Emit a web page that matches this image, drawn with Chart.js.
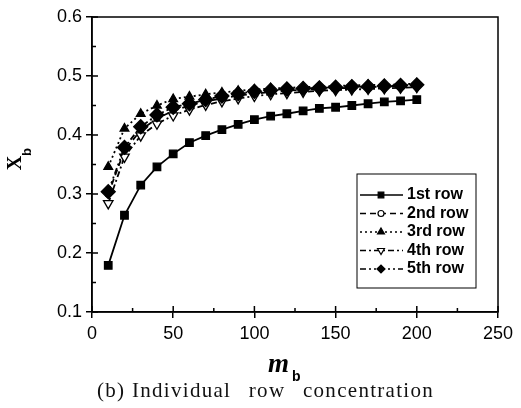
<!DOCTYPE html>
<html lang="en">
    <head>
        <title>Individual row concentration</title>
        <style>
            body { margin: 0; background: #fff; }
            #wrap { position: relative; width: 521px; height: 408px; }
            #caption {
                position: absolute; left: 97px; top: 378px;
                font-family: "Liberation Serif", "DejaVu Serif", serif;
                font-size: 21px; letter-spacing: 1.3px; white-space: nowrap; color: #111;
            }
            #caption span { word-spacing: 11px; }
        </style>
    </head>
    <body>
        <div id="wrap">
            <canvas id="chart" width="521" height="408"></canvas>
            <div id="caption">(b) <span>Individual row concentration</span></div>
        </div>

        <script src="https://cdn.jsdelivr.net/npm/chart.js"></script>
        <script>

            // m_b values (x)
            var mb = [10, 20, 30, 40, 50, 60, 70, 80, 90, 100, 110, 120, 130, 140, 150, 160, 170, 180, 190, 200]

            var row1 = [0.179, 0.264, 0.315, 0.346, 0.368, 0.387, 0.399, 0.409, 0.418, 0.426, 0.432, 0.436, 0.441, 0.445, 0.447, 0.450, 0.453, 0.456, 0.458, 0.460]
            var row2 = [0.300, 0.374, 0.408, 0.428, 0.441, 0.450, 0.457, 0.462, 0.467, 0.470, 0.473, 0.475, 0.477, 0.478, 0.479, 0.480, 0.481, 0.482, 0.483, 0.484]
            var row3 = [0.346, 0.411, 0.436, 0.450, 0.461, 0.465, 0.469, 0.472, 0.475, 0.477, 0.479, 0.480, 0.481, 0.482, 0.483, 0.484, 0.485, 0.485, 0.486, 0.487]
            var row4 = [0.284, 0.363, 0.399, 0.419, 0.433, 0.443, 0.451, 0.457, 0.462, 0.466, 0.469, 0.471, 0.473, 0.475, 0.476, 0.477, 0.478, 0.479, 0.480, 0.481]
            var row5 = [0.304, 0.379, 0.414, 0.434, 0.447, 0.453, 0.460, 0.466, 0.470, 0.474, 0.476, 0.478, 0.479, 0.480, 0.481, 0.482, 0.482, 0.483, 0.484, 0.485]

            var seriesNames = ["1st row", "2nd row", "3rd row", "4th row", "5th row"]

            var xTicks = [0, 50, 100, 150, 200, 250]
            var yTicks = [0.1, 0.2, 0.3, 0.4, 0.5, 0.6]


            function pts(ys){
                var out = []
                for(var i = 0; i < mb.length; i++){
                    out.push({x: mb[i], y: ys[i]})
                }
                return out
            }

            var datasets = [
                {label: seriesNames[0], data: pts(row1), borderDash: [], pointStyle: 'rect', pointRadius: 5.3, backgroundColor: '#000', order: 1},
                {label: seriesNames[1], data: pts(row2), borderDash: [6, 4], pointStyle: 'circle', pointRadius: 3, backgroundColor: '#fff', order: 5},
                {label: seriesNames[2], data: pts(row3), borderDash: [2, 3], pointStyle: 'triangle', pointRadius: 5, backgroundColor: '#000', order: 4},
                {label: seriesNames[3], data: pts(row4), borderDash: [6, 3, 2, 3], pointStyle: 'triangle', pointRotation: 180, pointRadius: 5.5, backgroundColor: '#fff', order: 3},
                {label: seriesNames[4], data: pts(row5), borderDash: [6, 3, 2, 3, 2, 3], pointStyle: 'rectRot', pointRadius: 7, backgroundColor: '#000', order: 2}
            ]
            datasets.forEach(function(d){
                d.borderColor = '#000'
                d.borderWidth = 1.8
                d.pointBorderColor = '#000'
                d.pointBackgroundColor = d.backgroundColor
                d.pointBorderWidth = 1.3
                d.fill = false
                d.tension = 0
            })


            // frame, inward ticks, minor ticks, axis titles, legend box
            var extras = {
                id: 'extras',
                afterDraw: function(chart){
                    var ctx = chart.ctx
                    var a = chart.chartArea
                    var xs = chart.scales.x
                    var ys = chart.scales.y
                    ctx.save()
                    ctx.strokeStyle = '#000'
                    ctx.lineWidth = 1.5
                    ctx.strokeRect(a.left, a.top, a.right - a.left, a.bottom - a.top)

                    ctx.beginPath()
                    for(var v = 0; v <= 250; v += 25){
                        var px = xs.getPixelForValue(v)
                        var len = (v % 50 == 0) ? 6 : 4
                        ctx.moveTo(px, a.bottom)
                        ctx.lineTo(px, a.bottom - len)
                    }
                    for(var k = 2; k <= 12; k++){
                        var val = k * 0.05
                        var py = ys.getPixelForValue(val)
                        var l2 = (k % 2 == 0) ? 6 : 4
                        ctx.moveTo(a.left, py)
                        ctx.lineTo(a.left + l2, py)
                    }
                    ctx.stroke()

                    // x title: m_b
                    ctx.fillStyle = '#000'
                    ctx.textBaseline = 'alphabetic'
                    ctx.textAlign = 'left'
                    ctx.font = 'italic bold 27px "Liberation Serif"'
                    ctx.fillText('m', 268, 372)
                    ctx.font = 'bold 14px "Liberation Sans"'
                    ctx.fillText('b', 292, 381)

                    // y title: X_b
                    ctx.save()
                    ctx.translate(16, 163)
                    ctx.rotate(-Math.PI / 2)
                    ctx.textAlign = 'center'
                    ctx.textBaseline = 'middle'
                    ctx.font = 'bold 20px "Liberation Serif"'
                    ctx.fillText('X', 0, 0)
                    ctx.font = 'bold 13px "Liberation Sans"'
                    ctx.fillText('b', 11, 11)
                    ctx.restore()

                    // legend
                    var bx = 357, by = 174, bw = 119, bh = 114
                    ctx.fillStyle = '#fff'
                    ctx.fillRect(bx, by, bw, bh)
                    ctx.lineWidth = 1
                    ctx.strokeRect(bx, by, bw, bh)
                    ctx.font = 'bold 16px "Liberation Sans"'
                    ctx.textAlign = 'left'
                    ctx.textBaseline = 'middle'
                    for(var i = 0; i < chart.data.datasets.length; i++){
                        var d = chart.data.datasets[i]
                        var yy = by + 21 + i * 18.5
                        ctx.strokeStyle = '#000'
                        ctx.lineWidth = 1.5
                        ctx.setLineDash(d.borderDash)
                        ctx.beginPath()
                        ctx.moveTo(bx + 3, yy)
                        ctx.lineTo(bx + 46, yy)
                        ctx.stroke()
                        ctx.setLineDash([])
                        ctx.fillStyle = d.backgroundColor
                        ctx.lineWidth = 1.2
                        Chart.helpers.drawPoint(ctx, {
                            pointStyle: d.pointStyle,
                            rotation: d.pointRotation || 0,
                            radius: Math.min(d.pointRadius, 4),
                            borderWidth: 1.2
                        }, bx + 24, yy)
                        ctx.fillStyle = '#000'
                        ctx.fillText(d.label, bx + 50, yy)
                    }
                    ctx.restore()
                }
            }


            new Chart(document.getElementById("chart"), {
                type: 'line',
                data: {datasets: datasets},
                plugins: [extras],
                options: {
                    responsive: false,
                    animation: false,
                    layout: {padding: {left: 0, right: 23, top: 17, bottom: 0}},
                    plugins: {
                        legend: {display: false},
                        tooltip: {enabled: false}
                    },
                    scales: {
                        x: {
                            type: 'linear',
                            min: 0,
                            max: 250,
                            afterBuildTicks: function(s){ s.ticks = xTicks.map(function(v){ return {value: v} }) },
                            afterFit: function(s){ s.height = 96 },
                            grid: {drawOnChartArea: false, drawTicks: true, tickLength: 6, color: '#000', lineWidth: 1.5},
                            border: {display: true, color: '#000', width: 1.5},
                            ticks: {color: '#000', padding: 5, font: {family: 'Liberation Sans', size: 18}}
                        },
                        y: {
                            type: 'linear',
                            min: 0.1,
                            max: 0.6,
                            afterBuildTicks: function(s){ s.ticks = yTicks.map(function(v){ return {value: v} }) },
                            afterFit: function(s){ s.width = 92 },
                            grid: {drawOnChartArea: false, drawTicks: true, tickLength: 6, color: '#000', lineWidth: 1.5},
                            border: {display: true, color: '#000', width: 1.5},
                            ticks: {
                                color: '#000', padding: 4, font: {family: 'Liberation Sans', size: 18},
                                callback: function(v){ return v.toFixed(1) }
                            }
                        }
                    }
                }
            });

        </script>
    </body>
</html>
